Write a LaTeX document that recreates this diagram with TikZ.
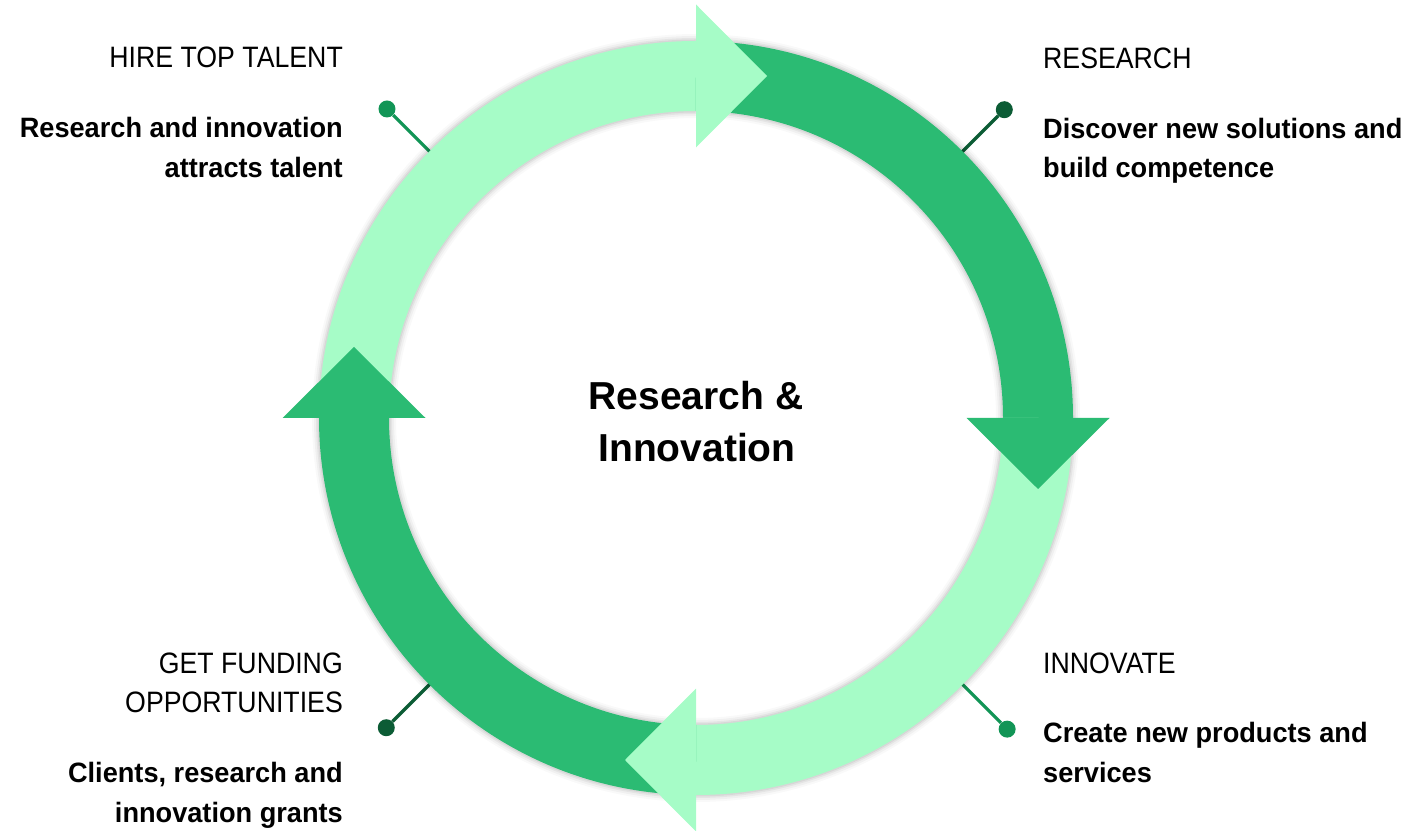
\documentclass[tikz,border=0pt]{standalone}
\usepackage{fontspec}
\setmainfont{Liberation Sans}
\newfontfamily\headfont[FakeStretch=0.905]{Liberation Sans}
\newfontfamily\bodyfont[FakeStretch=0.97]{Liberation Sans}
\definecolor{ringdark}{HTML}{2BBB73}
\definecolor{ringlight}{HTML}{A6FCC7}
\definecolor{leadmid}{HTML}{129556}
\definecolor{leaddark}{HTML}{0C5C35}

\begin{document}
\begin{tikzpicture}[x=1pt,y=1pt,
  band/.style={line width=70pt, line cap=butt},
  head/.style={inner sep=0pt, font=\headfont\fontsize{29.5}{34}\selectfont},
  body/.style={inner sep=0pt, font=\bodyfont\fontsize{28}{34}\selectfont\bfseries},
  title/.style={inner sep=0pt, font=\fontsize{39}{46}\selectfont\bfseries},
  dotnode/.style={circle, inner sep=0pt, minimum size=17pt, fill=#1},
  lead/.style={line width=3.2pt, draw=#1},
]
\useasboundingbox (0,0) rectangle (1410,830);
\coordinate (C) at (696,412);

% leader lines with end dots (drawn first, the ring covers their inner ends)
\coordinate (tlA) at ([shift={(135:365)}]C);
\coordinate (trA) at ([shift={(45:365)}]C);
\coordinate (brA) at ([shift={(-45:365)}]C);
\coordinate (blA) at ([shift={(-135:365)}]C);
\node[dotnode=leadmid]  (tlDot) at ([shift={(135:437)}]C) {};
\node[dotnode=leaddark] (trDot) at ([shift={(45:436)}]C) {};
\node[dotnode=leadmid]  (brDot) at ([shift={(-45:440)}]C) {};
\node[dotnode=leaddark] (blDot) at ([shift={(-135:438)}]C) {};
\draw[lead=leadmid]  (tlA) -- (tlDot);
\draw[lead=leaddark] (trA) -- (trDot);
\draw[lead=leadmid]  (brA) -- (brDot);
\draw[lead=leaddark] (blA) -- (blDot);

% soft glow under the ring
\foreach \w/\o in {84/0.025, 80/0.035, 76/0.05, 73/0.06}
  \draw[line width=\w pt, black, opacity=\o] (C) circle[radius=342];

% ring quarters
\draw[band, ringlight] ([shift={(180:342)}]C) arc[start angle=180, end angle=90, radius=342];
\draw[band, ringdark]  ([shift={(90:342)}]C)  arc[start angle=90, end angle=0, radius=342];
\draw[band, ringlight] ([shift={(0:342)}]C)   arc[start angle=0, end angle=-90, radius=342];
\draw[band, ringdark]  ([shift={(-90:342)}]C) arc[start angle=-90, end angle=-180, radius=342];

% arrowheads
\fill[ringlight] ([shift={(0,413.5)}]C) -- ([shift={(71,342)}]C) -- ([shift={(0,270.5)}]C) -- cycle;
\fill[ringdark]  ([shift={(270.5,0)}]C) -- ([shift={(342,-71)}]C) -- ([shift={(413.5,0)}]C) -- cycle;
\fill[ringlight] ([shift={(0,-270.5)}]C) -- ([shift={(-71,-342)}]C) -- ([shift={(0,-413.5)}]C) -- cycle;
\fill[ringdark]  ([shift={(-270.5,0)}]C) -- ([shift={(-342,71)}]C) -- ([shift={(-413.5,0)}]C) -- cycle;

% centre title
\node[title, anchor=base] (title1) at (696,420) {Research \&};
\node[title, anchor=base] (title2) at (697,368) {Innovation};

% top left
\node[head, anchor=base east] (hireH) at (343,762) {HIRE TOP TALENT};
\node[body, anchor=base east] (hire1) at (343,692) {Research and innovation};
\node[body, anchor=base east] (hire2) at (343,652) {attracts talent};

% top right
\node[head, anchor=base west] (resH) at (1043,761) {RESEARCH};
\node[body, anchor=base west] (res1) at (1043,691) {Discover new solutions and};
\node[body, anchor=base west] (res2) at (1043,652) {build competence};

% bottom right
\node[head, anchor=base west] (innH) at (1043,157) {INNOVATE};
\node[body, anchor=base west] (inn1) at (1043,88) {Create new products and};
\node[body, anchor=base west] (inn2) at (1043,48) {services};

% bottom left
\node[head, anchor=base east] (funH1) at (343,157) {GET FUNDING};
\node[head, anchor=base east] (funH2) at (343,118) {OPPORTUNITIES};
\node[body, anchor=base east] (fun1) at (343,48) {Clients, research and};
\node[body, anchor=base east] (fun2) at (343,8) {innovation grants};
\end{tikzpicture}
\end{document}
